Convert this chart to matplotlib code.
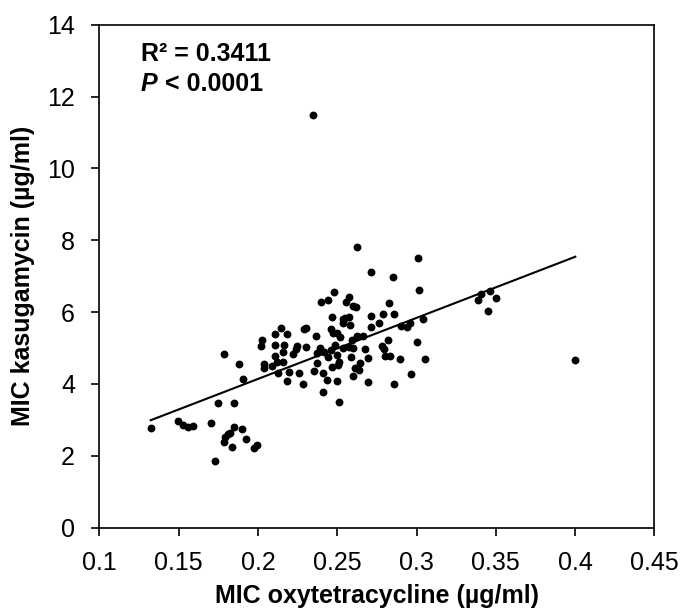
import matplotlib
matplotlib.use("Agg")
import matplotlib.pyplot as plt

plt.rcParams['font.family'] = ['Liberation Sans', 'DejaVu Sans']

# MIC values (oxytetracycline vs kasugamycin, ug/ml)
mic_oxy = [
    0.1324, 0.1494, 0.1530, 0.1556, 0.1589, 0.1704, 0.1747, 0.1847, 0.1727, 0.1847,
    0.1900, 0.1792, 0.1809, 0.1824, 0.1789, 0.1839, 0.1923, 0.1977, 0.1996,
    0.1786, 0.1881, 0.1904,
    0.2144, 0.2108, 0.2182, 0.2026, 0.2018, 0.2108, 0.2167, 0.2160, 0.2244, 0.2240,
    0.2108, 0.2123, 0.2087, 0.2039, 0.2039, 0.2156, 0.2223, 0.2194, 0.2127, 0.2257,
    0.2182, 0.2371,
    0.2622, 0.3010, 0.2711, 0.2852, 0.3014, 0.2482, 0.2396, 0.2444, 0.2556, 0.2577,
    0.2602, 0.2619, 0.2824, 0.2468, 0.2535, 0.2549, 0.2577, 0.2539, 0.2580, 0.2711,
    0.2790, 0.2856, 0.2762, 0.2715, 0.3042, 0.2902, 0.2942, 0.2959, 0.2290, 0.2303,
    0.2366, 0.2461, 0.2476, 0.2501, 0.2518, 0.2627, 0.2665, 0.2591, 0.2822, 0.3001,
    0.2304, 0.2392, 0.2417, 0.2375, 0.2459, 0.2486, 0.2539, 0.2577, 0.2602, 0.2497,
    0.2444, 0.2585, 0.2678, 0.2783, 0.2796, 0.2696, 0.2801, 0.2833, 0.2896, 0.3052,
    0.2643, 0.2513, 0.2503, 0.2465, 0.2612, 0.2639, 0.2602, 0.2354, 0.2409, 0.2438,
    0.2497, 0.2286, 0.2409, 0.2694, 0.2855, 0.2962, 0.2509,
    0.3405, 0.3386, 0.3464, 0.3502, 0.3449, 0.4001,
    0.2345,
]
mic_kas = [
    2.77, 2.97, 2.86, 2.81, 2.83, 2.90, 3.48, 3.46, 1.86, 2.81,
    2.76, 2.52, 2.60, 2.63, 2.39, 2.25, 2.48, 2.21, 2.30,
    4.83, 4.56, 4.13,
    5.57, 5.39, 5.40, 5.22, 5.06, 5.08, 5.08, 4.90, 5.06, 4.97,
    4.78, 4.62, 4.50, 4.56, 4.44, 4.62, 4.83, 4.34, 4.31, 4.31,
    4.09, 4.59,
    7.82, 7.51, 7.12, 6.97, 6.62, 6.57, 6.27, 6.34, 6.28, 6.41,
    6.17, 6.13, 6.25, 5.87, 5.80, 5.83, 5.86, 5.71, 5.64, 5.89,
    5.94, 5.94, 5.71, 5.58, 5.80, 5.62, 5.58, 5.69, 5.52, 5.55,
    5.34, 5.52, 5.41, 5.41, 5.30, 5.34, 5.34, 5.22, 5.22, 5.17,
    5.04, 4.99, 4.90, 4.85, 4.95, 5.08, 4.99, 5.02, 4.99, 4.81,
    4.76, 4.76, 4.97, 5.06, 4.97, 4.71, 4.79, 4.78, 4.69, 4.69,
    4.59, 4.62, 4.53, 4.48, 4.44, 4.39, 4.22, 4.37, 4.30, 4.11,
    4.09, 4.00, 3.79, 4.06, 4.00, 4.28, 3.49,
    6.50, 6.34, 6.60, 6.38, 6.03, 4.67,
    11.50,
]

# linear trend line as shown in the figure
fit_slope = 17.0
fit_intercept = 0.74
r_squared_text = "R² = 0.3411"
p_value_text = "< 0.0001"

x_ticks = [0.1, 0.15, 0.2, 0.25, 0.3, 0.35, 0.4, 0.45]
x_tick_labels = ['0.1', '0.15', '0.2', '0.25', '0.3', '0.35', '0.4', '0.45']
y_ticks = [0, 2, 4, 6, 8, 10, 12, 14]

fig = plt.figure(figsize=(6.86, 6.15), dpi=100)
ax = fig.add_axes([0.1448, 0.1420, 0.8092, 0.8178])

ax.scatter(mic_oxy, mic_kas, s=32, color='black', zorder=3, linewidths=0)

x_line = [min(mic_oxy), max(mic_oxy)]
y_line = [fit_slope * x + fit_intercept for x in x_line]
ax.plot(x_line, y_line, color='black', linewidth=1.5, zorder=2)

ax.set_xlim(0.1, 0.45)
ax.set_ylim(0, 14)
ax.set_xticks(x_ticks)
ax.set_xticklabels(x_tick_labels)
ax.set_yticks(y_ticks)

for side in ['left', 'right', 'top', 'bottom']:
    ax.spines[side].set_linewidth(1.2)

ax.tick_params(axis='x', direction='out', length=5.5, width=1.2, labelsize=18, pad=11)
ax.tick_params(axis='y', direction='out', length=5.5, width=1.2, labelsize=18, pad=12)

ax.set_xlabel('MIC oxytetracycline (µg/ml)', fontsize=18, fontweight='bold', labelpad=7)
ax.set_ylabel('MIC kasugamycin (µg/ml)', fontsize=18, fontweight='bold', labelpad=9)

ax.text(0.075, 0.941, r_squared_text, transform=ax.transAxes, fontsize=18,
        fontweight='bold', va='center', ha='left')
p_txt = ax.text(0.075, 0.883, 'P', transform=ax.transAxes, fontsize=18,
                fontweight='bold', fontstyle='italic', va='center', ha='left')
ax.annotate(' ' + p_value_text, xy=(1, 0.5), xycoords=p_txt, fontsize=18,
            fontweight='bold', va='center', ha='left')

fig.savefig('out.png', dpi=100)
